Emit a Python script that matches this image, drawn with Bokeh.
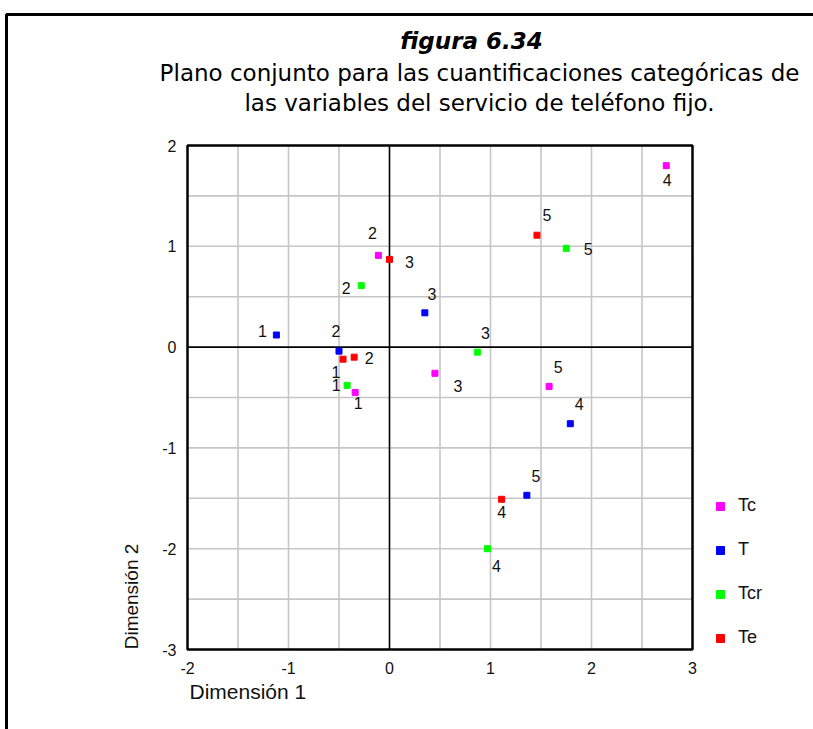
import math
from bokeh.plotting import figure
from bokeh.models import Label, Legend, LegendItem, Range1d
from bokeh.core.properties import value
from bokeh.embed import file_html
from bokeh.resources import INLINE

# ---------------- data ----------------
series_names = ["Tc", "T", "Tcr", "Te"]
categories = ["1", "2", "3", "4", "5"]
tc_x = [-0.34, -0.11, 0.45, 2.74, 1.58]
tc_y = [-0.45, 0.91, -0.26, 1.80, -0.39]
t_x = [-1.12, -0.50, 0.35, 1.79, 1.36]
t_y = [0.12, -0.04, 0.34, -0.76, -1.47]
tcr_x = [-0.42, -0.28, 0.87, 0.97, 1.75]
tcr_y = [-0.38, 0.61, -0.05, -2.00, 0.98]
te_x = [-0.46, -0.35, 0.00, 1.11, 1.46]
te_y = [-0.12, -0.10, 0.87, -1.51, 1.11]
x_ticks = [-2, -1, 0, 1, 2, 3]
x_tick_labels = ["-2", "-1", "0", "1", "2", "3"]
y_ticks = [-3, -2, -1, 0, 1, 2]
y_tick_labels = ["-3", "-2", "-1", "0", "1", "2"]
x_grid = [-1.5, -1, -0.5, 0.5, 1, 1.5, 2, 2.5]
y_grid = [-2.5, -2, -1.5, -1, -0.5, 0.5, 1, 1.5]
title_text = "figura 6.34"
subtitle_lines = ["Plano conjunto para las cuantificaciones categóricas de",
                  "las variables del servicio de teléfono fijo."]
x_label = "Dimensión 1"
y_label = "Dimensión 2"

# ---------------- styles ----------------
colors = ["#ff00ff", "#0000ff", "#00ff00", "#ff0000"]
# point-label offsets in screen pixels (right / down)
label_dx = [[3, -6, 23, 1, 9], [-14, -3, 7, 9, 9], [-11, -15, 8, 9, 22], [-7, 15, 20, 0, 10]]
label_dy = [[11, -22, 13, 14, -19], [-4, -20, -19, -20, -19], [0, 2, -19, 17, 1], [13, 1, 3, 13, -20]]

W, H = 813, 729
XMIN, XMAX, YMIN, YMAX = -2, 3, -3, 2
# plot-area rectangle on the canvas (pixels)
PX_L, PX_R, PY_T, PY_B = 187, 692, 145, 649


def px2x(px):
    return XMIN + (px - PX_L) * (XMAX - XMIN) / (PX_R - PX_L)


def py2y(py):
    return YMAX - (py - PY_T) * (YMAX - YMIN) / (PY_B - PY_T)


p = figure(width=W, height=H, x_range=Range1d(px2x(0), px2x(W)),
           y_range=Range1d(py2y(H), py2y(0)), x_axis_location=None, y_axis_location=None,
           min_border=0, output_backend="svg", toolbar_location=None)
p.title.visible = False
p.outline_line_color = None
p.background_fill_color = "white"
p.border_fill_color = "white"
for g in p.grid:
    g.visible = False

# outer frame (top and left sides of the page box)
p.line([px2x(W + 50), px2x(6), px2x(6)], [py2y(14), py2y(14), py2y(H + 50)],
       line_color="black", line_width=3)

# grid
p.multi_line([[g, g] for g in x_grid], [[YMIN, YMAX] for _ in x_grid],
             line_color="#c6c6c6", line_width=1.6)
p.multi_line([[XMIN, XMAX] for _ in y_grid], [[g, g] for g in y_grid],
             line_color="#c6c6c6", line_width=1.6)
# zero axes
p.multi_line([[0, 0], [XMIN, XMAX]], [[YMIN, YMAX], [0, 0]], line_color="black", line_width=1.6)
# plot border
p.quad(left=[XMIN], right=[XMAX], bottom=[YMIN], top=[YMAX], fill_alpha=0,
       line_color="black", line_width=2.5)

# tick labels
p.text(x_ticks, [YMIN] * len(x_ticks), text=x_tick_labels, y_offset=18, text_align="center",
       text_baseline="middle", text_font=value("Liberation Sans"), text_font_size="16px",
       text_color="#111111")
p.text([XMIN] * len(y_ticks), y_ticks, text=y_tick_labels, x_offset=-11, text_align="right",
       text_baseline="middle", text_font=value("Liberation Sans"), text_font_size="16px",
       text_color="#111111")

all_x = [tc_x, t_x, tcr_x, te_x]
all_y = [tc_y, t_y, tcr_y, te_y]
items = []
for name, xs, ys, c, dx, dy in zip(series_names, all_x, all_y, colors, label_dx, label_dy):
    r = p.scatter(xs, ys, marker="square", size=6, fill_color=c, line_color=c)
    p.text(xs, ys, text=categories, x_offset=dx, y_offset=dy, text_align="center",
           text_baseline="middle", text_font=value("Liberation Sans"),
           text_font_size="16px", text_color="#111111")
    items.append(LegendItem(label=name, renderers=[r]))

legend = Legend(items=items, location=(710, 81), orientation="vertical",
                padding=0, margin=0, spacing=23, glyph_width=20, glyph_height=20,
                label_height=20, label_standoff=8, label_text_font="Liberation Sans",
                label_text_font_size="18px", label_text_color="#111111",
                border_line_color=None, background_fill_alpha=0)
p.add_layout(legend, "center")

p.add_layout(Label(x=px2x(471), y=py2y(40), text=title_text, text_align="center",
                   text_baseline="alphabetic", text_font="DejaVu Sans",
                   text_font_style="bold italic", text_font_size="23px", text_color="black"))
for i, line in enumerate(subtitle_lines):
    p.add_layout(Label(x=px2x(479), y=py2y(72 + 30 * i), text=line, text_align="center",
                       text_baseline="alphabetic", text_font="DejaVu Sans",
                       text_font_size="23px", text_color="black"))
p.add_layout(Label(x=px2x(189), y=py2y(691), text=x_label, text_align="left",
                   text_baseline="middle", text_font="Liberation Sans",
                   text_font_size="21px", text_color="#111111"))
p.add_layout(Label(x=px2x(131), y=py2y(596), text=y_label, text_align="center",
                   text_baseline="middle", angle=math.pi / 2, text_font="Liberation Sans",
                   text_font_size="19px", text_color="#111111"))

open("out.html", "w").write(file_html(p, INLINE))
